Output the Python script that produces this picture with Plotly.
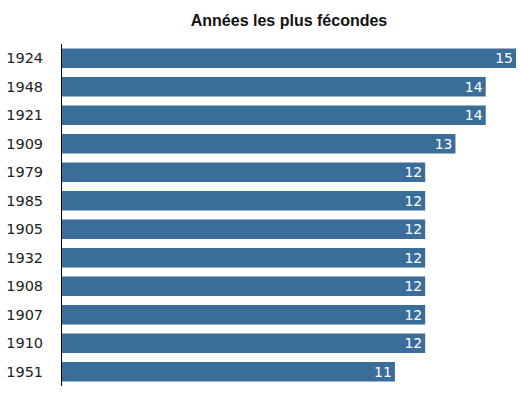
import plotly.graph_objects as go

years = ["1924", "1948", "1921", "1909", "1979", "1985", "1905", "1932", "1908", "1907", "1910", "1951"]
values = [15, 14, 14, 13, 12, 12, 12, 12, 12, 12, 12, 11]
title = "Années les plus fécondes"

fig = go.Figure(go.Bar(
    x=values, y=years, orientation="h",
    marker=dict(color="#3a6d99", line=dict(width=0)),
    text=[str(v) for v in values], textposition="inside",
    insidetextanchor="end", constraintext="none",
    insidetextfont=dict(family="DejaVu Sans", size=14, color="white"),
    hoverinfo="skip",
))

fig.update_layout(
    width=521, height=396,
    margin=dict(l=62, r=5, t=44, b=10),
    paper_bgcolor="white", plot_bgcolor="white",
    bargap=0.32,
    showlegend=False,
    title=dict(text="<b>" + title + "</b>", x=(62 + 516) / 2 / 521, xanchor="center",
               y=1 - 20 / 396, yanchor="middle",
               font=dict(family="Liberation Sans, Arial", size=16, color="#111")),
    xaxis=dict(range=[0, 15], visible=False, fixedrange=True),
    yaxis=dict(type="category", autorange="reversed", showline=True, linecolor="black",
               linewidth=1, showgrid=False, ticks="", ticklabelstandoff=15, fixedrange=True,
               tickfont=dict(family="DejaVu Sans", size=14.5, color="#222")),
)

fig.write_html("out.html", config={"displayModeBar": False, "staticPlot": True},
               post_script="document.body.style.margin='0';document.body.style.overflow='hidden';")
